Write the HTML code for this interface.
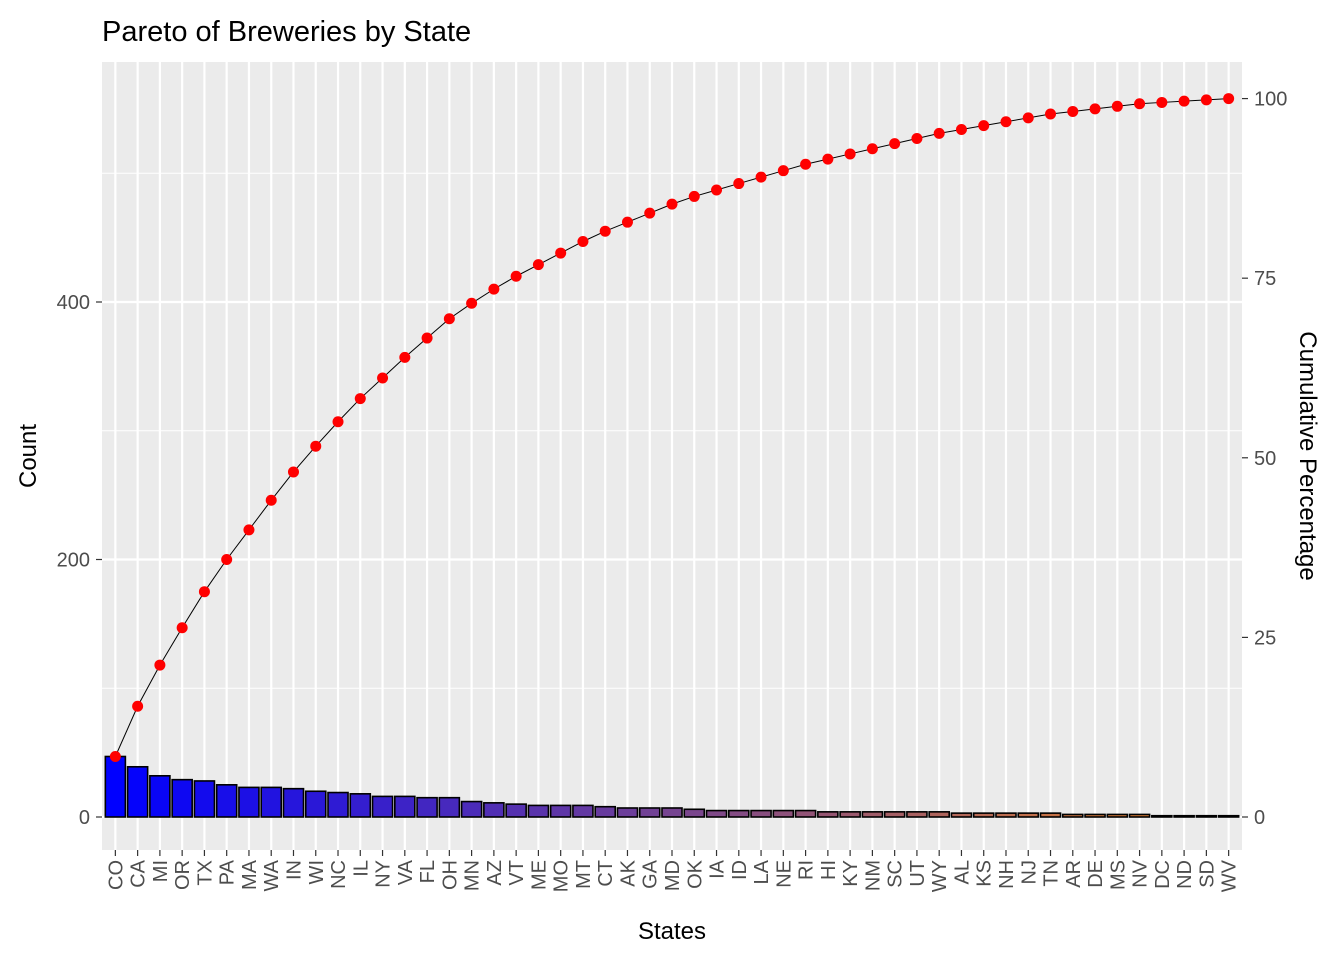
<!DOCTYPE html>
<html><head><meta charset="utf-8"><style>
body{margin:0;background:#fff;font-family:"Liberation Sans",Arial,sans-serif}
svg text{font-family:"Liberation Sans",Arial,sans-serif}
</style></head><body>
<svg id="chart" width="1344" height="960" xmlns="http://www.w3.org/2000/svg">
<rect width="1344" height="960" fill="#fff"/>
<text x="102" y="41" font-size="29" fill="#000">Pareto of Breweries by State</text>
<rect x="102" y="62" width="1140" height="788" fill="#EBEBEB"/>
<g id="grid"></g><g id="bars"></g><g id="line"></g><g id="axes"></g>
<text x="672" y="939" font-size="24" text-anchor="middle">States</text>
<text transform="translate(36,456) rotate(-90)" font-size="24" text-anchor="middle">Count</text>
<text transform="translate(1300,456) rotate(90)" font-size="24" text-anchor="middle">Cumulative Percentage</text>
</svg>
<script>
const states=["CO","CA","MI","OR","TX","PA","MA","WA","IN","WI","NC","IL","NY","VA","FL","OH","MN","AZ","VT","ME","MO","MT","CT","AK","GA","MD","OK","IA","ID","LA","NE","RI","HI","KY","NM","SC","UT","WY","AL","KS","NH","NJ","TN","AR","DE","MS","NV","DC","ND","SD","WV"];
const counts=[47,39,32,29,28,25,23,23,22,20,19,18,16,16,15,15,12,11,10,9,9,9,8,7,7,7,6,5,5,5,5,5,4,4,4,4,4,4,3,3,3,3,3,2,2,2,2,1,1,1,1];
const yTicks=[0,200,400];
const pctTicks=[0,25,50,75,100];
const NS="http://www.w3.org/2000/svg";
function mk(t,a,p){const e=document.createElementNS(NS,t);for(const k in a)e.setAttribute(k,a[k]);p.appendChild(e);return e;}
const total=counts.reduce((a,b)=>a+b,0);
const x0=102,x1=1242,n=states.length,step=(x1-x0)/(n-1+1.2);
const xs=i=>x0+(0.6+i)*step;
const y=v=>817-v*(515/400);
const grid=document.getElementById('grid'),bars=document.getElementById('bars'),line=document.getElementById('line'),axes=document.getElementById('axes');
for(let v=-100;v<=700;v+=100){const yy=y(v);if(yy<62||yy>850)continue;
 const g=mk('line',{x1:x0,x2:x1,y1:yy,y2:yy,stroke:'#fff','stroke-width':v%200===0?2.2:1.1},grid);
 }
for(let i=0;i<n;i++){const g=mk('line',{x1:xs(i),x2:xs(i),y1:62,y2:850,stroke:'#fff','stroke-width':2.2},grid);
 }
function col(i){const w=i/(n-1);const a=[0,0,255],b=[235,135,35];
 return `rgb(${Math.round(a[0]+(b[0]-a[0])*w)},${Math.round(a[1]+(b[1]-a[1])*w)},${Math.round(a[2]+(b[2]-a[2])*w)})`;}
const bw=step*0.9;
counts.forEach((c,i)=>{const r=mk('rect',{x:xs(i)-bw/2,y:y(c),width:bw,height:y(0)-y(c),fill:col(i),stroke:'#000','stroke-width':1.6},bars);
 });
let cum=0;const pts=counts.map((c,i)=>{cum+=c;return [xs(i),y(cum)];});
const pl=mk('polyline',{points:pts.map(p=>p.join(',')).join(' '),fill:'none',stroke:'#000','stroke-width':1},line);

pts.forEach((p,i)=>{const c=mk('circle',{cx:p[0],cy:p[1],r:5.5,fill:'#FF0000'},line);
 });
yTicks.forEach(v=>{const t=mk('text',{x:90,y:y(v)+7,'font-size':20,fill:'#4D4D4D','text-anchor':'end'},axes);t.textContent=v;
 
 const l=mk('line',{x1:96,x2:102,y1:y(v),y2:y(v),stroke:'#333','stroke-width':1.2},axes);
 });
pctTicks.forEach(p=>{const yy=y(p/100*total);
 const t=mk('text',{x:1254,y:yy+7,'font-size':20,fill:'#4D4D4D'},axes);t.textContent=p;
 
 const l=mk('line',{x1:1242,x2:1248,y1:yy,y2:yy,stroke:'#333','stroke-width':1.2},axes);
 });
states.forEach((s,i)=>{const l=mk('line',{x1:xs(i),x2:xs(i),y1:850,y2:856,stroke:'#333','stroke-width':1.2},axes);
 
 const t=mk('text',{transform:`translate(${xs(i)+7},860) rotate(-90)`,'font-size':20,fill:'#4D4D4D','text-anchor':'end'},axes);t.textContent=s;
 });
</script>
</body></html>
